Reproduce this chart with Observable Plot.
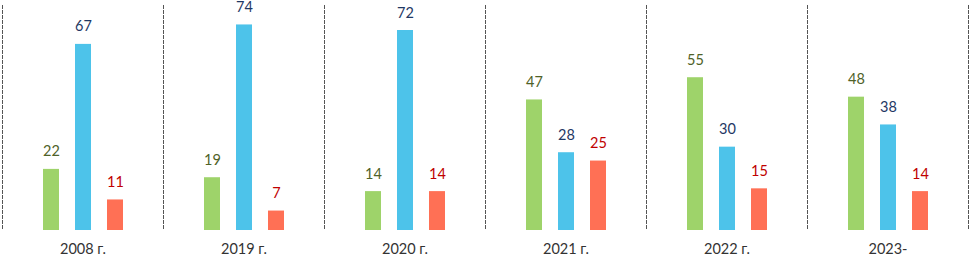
<!DOCTYPE html>
<html>
<head>
<meta charset="utf-8">
<script src="https://cdn.jsdelivr.net/npm/d3@7"></script>
<script src="https://cdn.jsdelivr.net/npm/@observablehq/plot@0.6"></script>
<style>
  html, body { margin: 0; padding: 0; background: #fff; }
  #chart svg { display: block; }
</style>
</head>
<body>
<div id="chart"></div>
<script>
const years = ["2008 г.", "2019 г.", "2020 г.", "2021 г.", "2022 г.", "2023-"];
const seriesNames = ["s1", "s2", "s3"];
const greenValues = [22, 19, 14, 47, 55, 48];
const blueValues = [67, 74, 72, 28, 30, 38];
const redValues = [11, 7, 14, 25, 15, 14];
const barColors = ["#9ED36A", "#4DC3EA", "#FF7055"];
const labelColors = ["#4F6228", "#1F3864", "#C00000"];

const valuesBySeries = [greenValues, blueValues, redValues];
const data = [];
years.forEach((year, i) => {
  seriesNames.forEach((s, j) => {
    data.push({year, series: s, value: valuesBySeries[j][i], labelColor: labelColors[j]});
  });
});

const dash = {stroke: "#555", strokeWidth: 1, strokeDasharray: "3,2"};

const chart = Plot.plot({
  width: 969,
  height: 257,
  marginLeft: 0,
  marginRight: 0,
  marginTop: 5,
  marginBottom: 27,
  style: {fontFamily: "Lato, 'Open Sans', sans-serif", fontSize: "14px", background: "#fff"},
  fx: {domain: years, padding: 0, label: null},
  x: {domain: seriesNames, paddingInner: 0.5, paddingOuter: 1.25, axis: null},
  y: {domain: [0, 81], axis: null},
  color: {type: "ordinal", domain: seriesNames, range: barColors},
  marks: [
    Plot.frame({anchor: "left", ...dash}),
    Plot.frame({anchor: "right", ...dash}),
    Plot.barY(data, {fx: "year", x: "series", y: "value", fill: "series"}),
    Plot.text(data, {
      fx: "year", x: "series", y: "value", text: d => String(d.value),
      fill: d => d.labelColor, lineAnchor: "bottom", dy: -13, fontSize: 14.5
    }),
    Plot.axisFx({anchor: "bottom", tickSize: 0, tickPadding: 13, fontSize: 14.5, fill: "#333", label: null})
  ]
});
document.getElementById("chart").appendChild(chart);
</script>
</body>
</html>
